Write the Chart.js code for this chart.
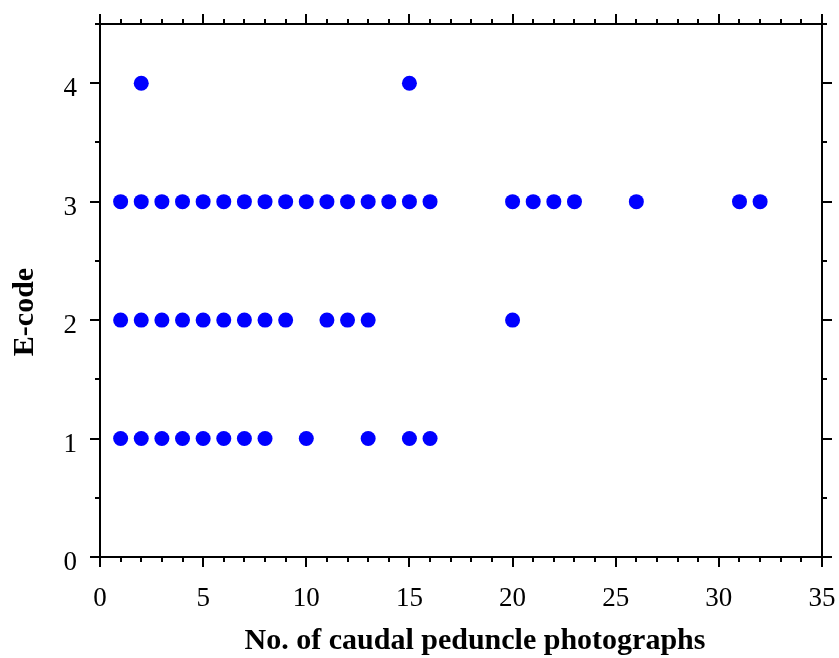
<!DOCTYPE html>
<html>
<head>
<meta charset="utf-8">
<script src="https://cdn.jsdelivr.net/npm/chart.js@4/dist/chart.umd.min.js"></script>
<style>
html,body{margin:0;padding:0;background:#fff;}
#wrap{width:839px;height:658px;position:relative;}
</style>
</head>
<body>
<div id="wrap"><canvas id="c" width="839" height="658"></canvas></div>
<script>
// Data: x = no. of caudal peduncle photographs for each E-code
const eCodes = [1, 2, 3, 4];
const photosE1 = [1, 2, 3, 4, 5, 6, 7, 8, 10, 13, 15, 16];
const photosE2 = [1, 2, 3, 4, 5, 6, 7, 8, 9, 11, 12, 13, 20];
const photosE3 = [1, 2, 3, 4, 5, 6, 7, 8, 9, 10, 11, 12, 13, 14, 15, 16, 20, 21, 22, 23, 26, 31, 32];
const photosE4 = [2, 15];
const xTickLabels = [0, 5, 10, 15, 20, 25, 30, 35];
const yTickLabels = [0, 1, 2, 3, 4];
const xTitle = 'No. of caudal peduncle photographs';
const yTitle = 'E-code';

const groups = [photosE1, photosE2, photosE3, photosE4];
const points = [];
groups.forEach((xs, i) => xs.forEach(x => points.push({x: x, y: eCodes[i]})));

const FONT = "'Liberation Serif', 'Times New Roman', serif";

function fixBox(size, key) {
  return function (s) {
    s[key] = size;
    s.paddingLeft = 0; s.paddingRight = 0; s.paddingTop = 0; s.paddingBottom = 0;
  };
}

const framePlugin = {
  id: 'frameTicks',
  afterDraw(chart) {
    const ctx = chart.ctx;
    const a = chart.chartArea;
    const xs = chart.scales.x, ys = chart.scales.y;
    ctx.save();
    ctx.strokeStyle = '#000';
    ctx.lineWidth = 2;
    ctx.strokeRect(a.left, a.top, a.right - a.left, a.bottom - a.top);
    ctx.beginPath();
    for (let v = 0; v <= 35; v += 1) {
      const px = Math.round(xs.getPixelForValue(v));
      const len = v % 5 === 0 ? 10 : 5;
      ctx.moveTo(px, a.bottom); ctx.lineTo(px, a.bottom + len);
      ctx.moveTo(px, a.top); ctx.lineTo(px, a.top - len);
    }
    for (let v = 0; v <= 4.5; v += 0.5) {
      const py = Math.round(ys.getPixelForValue(v));
      const len = Number.isInteger(v) ? 10 : 5;
      ctx.moveTo(a.left, py); ctx.lineTo(a.left - len, py);
      ctx.moveTo(a.right, py); ctx.lineTo(a.right + len, py);
    }
    ctx.stroke();
    // axis titles
    ctx.fillStyle = '#000';
    ctx.font = 'bold 30px ' + FONT;
    ctx.textAlign = 'center';
    ctx.textBaseline = 'alphabetic';
    ctx.fillText(xTitle, 475, 649);
    ctx.translate(33, 312);
    ctx.rotate(-Math.PI / 2);
    ctx.fillText(yTitle, 0, 0);
    ctx.restore();
  }
};

new Chart(document.getElementById('c'), {
  type: 'scatter',
  data: {
    datasets: [{
      data: points,
      backgroundColor: '#0000ff',
      borderColor: '#0000ff',
      pointRadius: 7.5,
      pointHoverRadius: 7.5,
      borderWidth: 0
    }]
  },
  options: {
    responsive: false,
    animation: false,
    events: [],
    layout: {padding: 0},
    plugins: {legend: {display: false}, tooltip: {enabled: false}},
    scales: {
      x: {
        type: 'linear', position: 'bottom', min: 0, max: 35,
        afterFit: fixBox(101, 'height'),
        grid: {display: false, drawTicks: false},
        border: {display: false},
        ticks: {
          stepSize: 5, padding: 26, color: '#000', maxRotation: 0, autoSkip: false,
          font: {family: FONT, size: 27},
          callback: v => xTickLabels.includes(v) ? String(v) : ''
        },
        title: {display: false}
      },
      y: {
        type: 'linear', position: 'left', min: 0, max: 4.5,
        afterFit: fixBox(100, 'width'),
        grid: {display: false, drawTicks: false},
        border: {display: false},
        ticks: {
          stepSize: 1, padding: 23, labelOffset: 6, color: '#000', autoSkip: false,
          font: {family: FONT, size: 27},
          callback: v => yTickLabels.includes(v) ? String(v) : ''
        },
        title: {display: false}
      },
      x2: {
        type: 'linear', position: 'top', min: 0, max: 35,
        afterFit: fixBox(24, 'height'),
        grid: {display: false, drawTicks: false}, border: {display: false},
        ticks: {display: false}
      },
      y2: {
        type: 'linear', position: 'right', min: 0, max: 4.5,
        afterFit: fixBox(17, 'width'),
        grid: {display: false, drawTicks: false}, border: {display: false},
        ticks: {display: false}
      }
    }
  },
  plugins: [framePlugin]
});
</script>
</body>
</html>
